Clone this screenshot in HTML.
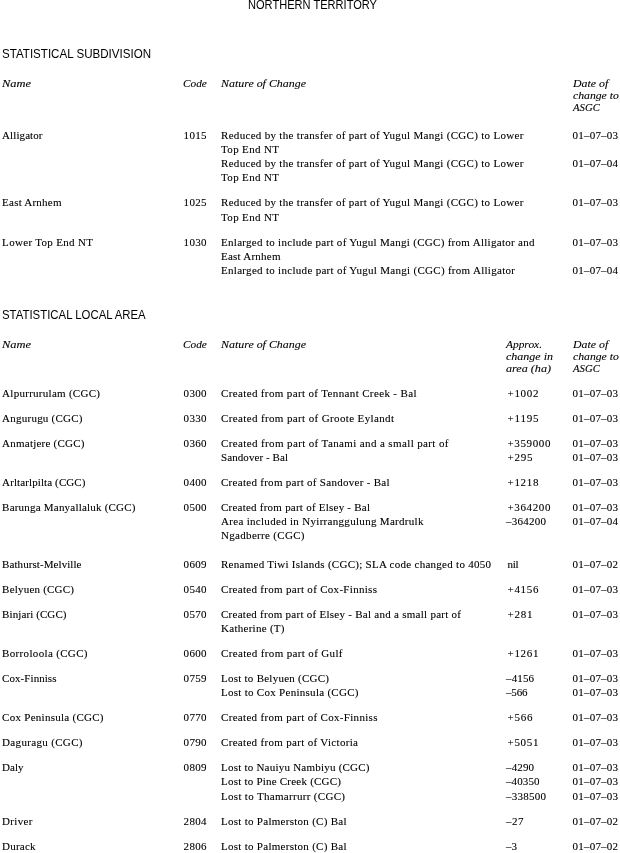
<!DOCTYPE html>
<html lang="en"><head><meta charset="utf-8"><title>Northern Territory</title>
<style>
html,body{margin:0;padding:0;background:#fff;}
body{width:620px;height:853px;position:relative;overflow:hidden;color:#000;}
#pg,#hd{position:absolute;left:0;top:0;width:620px;height:853px;overflow:hidden;}
#pg{filter:url(#bw);}
#pg div,#hd div{position:absolute;white-space:nowrap;line-height:normal;transform-origin:0 0;}
.r{font-family:"Liberation Serif",serif;font-size:11px;}
.i{font-family:"Liberation Serif",serif;font-size:11px;font-style:italic;}
.h{font-family:"Liberation Sans",sans-serif;font-size:13px;}
</style></head><body>
<svg width="0" height="0" style="position:absolute"><defs><filter id="bw" x="0" y="0" width="100%" height="100%" color-interpolation-filters="sRGB"><feComponentTransfer><feFuncA type="gamma" exponent="0.8"/></feComponentTransfer></filter></defs></svg>
<div id="hd">
<div class="h" style="left:247.6px;top:-3px;transform:scaleX(0.8517);">NORTHERN TERRITORY</div>
<div class="h" style="left:1.8px;top:46px;transform:scaleX(0.8910);">STATISTICAL SUBDIVISION</div>
<div class="h" style="left:1.8px;top:307px;transform:scaleX(0.8762);">STATISTICAL LOCAL AREA</div>
</div>
<div id="pg">
<div class="i" style="left:2px;top:77px;transform:scaleX(1.1296);">Name</div>
<div class="i" style="left:183px;top:77px;transform:scaleX(1.0243);">Code</div>
<div class="i" style="left:220.5px;top:77px;transform:scaleX(1.0837);">Nature of Change</div>
<div class="i" style="left:572.6px;top:77px;transform:scaleX(1.0763);">Date of</div>
<div class="i" style="left:572.6px;top:89px;transform:scaleX(1.0632);">change to</div>
<div class="i" style="left:572.6px;top:101px;transform:scaleX(0.9745);">ASGC</div>
<div class="i" style="left:2px;top:338px;transform:scaleX(1.1296);">Name</div>
<div class="i" style="left:183px;top:338px;transform:scaleX(1.0243);">Code</div>
<div class="i" style="left:220.5px;top:338px;transform:scaleX(1.0837);">Nature of Change</div>
<div class="i" style="left:506px;top:338px;transform:scaleX(1.0364);">Approx.</div>
<div class="i" style="left:506px;top:350px;transform:scaleX(1.0910);">change in</div>
<div class="i" style="left:506px;top:362px;transform:scaleX(1.1018);">area (ha)</div>
<div class="i" style="left:572.6px;top:338px;transform:scaleX(1.0763);">Date of</div>
<div class="i" style="left:572.6px;top:350px;transform:scaleX(1.0632);">change to</div>
<div class="i" style="left:572.6px;top:362px;transform:scaleX(0.9745);">ASGC</div>
<div class="r" style="left:2.1px;top:129px;letter-spacing:0.085px;">Alligator</div>
<div class="r" style="left:183.6px;top:129px;letter-spacing:0.300px;">1015</div>
<div class="r" style="left:221px;top:129px;letter-spacing:0.307px;">Reduced by the transfer of part of Yugul Mangi (CGC) to Lower</div>
<div class="r" style="left:572.6px;top:129px;letter-spacing:0.200px;">01–07–03</div>
<div class="r" style="left:221px;top:143px;letter-spacing:0.351px;">Top End NT</div>
<div class="r" style="left:221px;top:157px;letter-spacing:0.307px;">Reduced by the transfer of part of Yugul Mangi (CGC) to Lower</div>
<div class="r" style="left:572.6px;top:157px;letter-spacing:0.200px;">01–07–04</div>
<div class="r" style="left:221px;top:171px;letter-spacing:0.351px;">Top End NT</div>
<div class="r" style="left:2.1px;top:196px;letter-spacing:0.226px;">East Arnhem</div>
<div class="r" style="left:183.6px;top:196px;letter-spacing:0.300px;">1025</div>
<div class="r" style="left:221px;top:196px;letter-spacing:0.307px;">Reduced by the transfer of part of Yugul Mangi (CGC) to Lower</div>
<div class="r" style="left:572.6px;top:196px;letter-spacing:0.200px;">01–07–03</div>
<div class="r" style="left:221px;top:211px;letter-spacing:0.351px;">Top End NT</div>
<div class="r" style="left:2.1px;top:236px;letter-spacing:0.320px;">Lower Top End NT</div>
<div class="r" style="left:183.6px;top:236px;letter-spacing:0.300px;">1030</div>
<div class="r" style="left:221px;top:236px;letter-spacing:0.292px;">Enlarged to include part of Yugul Mangi (CGC) from Alligator and</div>
<div class="r" style="left:572.6px;top:236px;letter-spacing:0.200px;">01–07–03</div>
<div class="r" style="left:221px;top:250px;letter-spacing:0.236px;">East Arnhem</div>
<div class="r" style="left:221px;top:264px;letter-spacing:0.297px;">Enlarged to include part of Yugul Mangi (CGC) from Alligator</div>
<div class="r" style="left:572.6px;top:264px;letter-spacing:0.200px;">01–07–04</div>
<div class="r" style="left:2.1px;top:387px;letter-spacing:0.277px;">Alpurrurulam (CGC)</div>
<div class="r" style="left:183.6px;top:387px;letter-spacing:0.300px;">0300</div>
<div class="r" style="left:221px;top:387px;letter-spacing:0.362px;">Created from part of Tennant Creek - Bal</div>
<div class="r" style="left:507.5px;top:387px;letter-spacing:0.695px;">+1002</div>
<div class="r" style="left:572.6px;top:387px;letter-spacing:0.200px;">01–07–03</div>
<div class="r" style="left:2.1px;top:412px;letter-spacing:0.238px;">Angurugu (CGC)</div>
<div class="r" style="left:183.6px;top:412px;letter-spacing:0.300px;">0330</div>
<div class="r" style="left:221px;top:412px;letter-spacing:0.372px;">Created from part of Groote Eylandt</div>
<div class="r" style="left:507.5px;top:412px;letter-spacing:0.801px;">+1195</div>
<div class="r" style="left:572.6px;top:412px;letter-spacing:0.200px;">01–07–03</div>
<div class="r" style="left:2.1px;top:437px;letter-spacing:0.234px;">Anmatjere (CGC)</div>
<div class="r" style="left:183.6px;top:437px;letter-spacing:0.300px;">0360</div>
<div class="r" style="left:221px;top:437px;letter-spacing:0.378px;">Created from part of Tanami and a small part of</div>
<div class="r" style="left:507.5px;top:437px;letter-spacing:0.630px;">+359000</div>
<div class="r" style="left:572.6px;top:437px;letter-spacing:0.200px;">01–07–03</div>
<div class="r" style="left:221px;top:451px;letter-spacing:0.078px;">Sandover - Bal</div>
<div class="r" style="left:507.5px;top:451px;letter-spacing:0.760px;">+295</div>
<div class="r" style="left:572.6px;top:451px;letter-spacing:0.200px;">01–07–03</div>
<div class="r" style="left:2.1px;top:476px;letter-spacing:0.107px;">Arltarlpilta (CGC)</div>
<div class="r" style="left:183.6px;top:476px;letter-spacing:0.300px;">0400</div>
<div class="r" style="left:221px;top:476px;letter-spacing:0.284px;">Created from part of Sandover - Bal</div>
<div class="r" style="left:507.5px;top:476px;letter-spacing:0.695px;">+1218</div>
<div class="r" style="left:572.6px;top:476px;letter-spacing:0.200px;">01–07–03</div>
<div class="r" style="left:2.1px;top:501px;letter-spacing:0.212px;">Barunga Manyallaluk (CGC)</div>
<div class="r" style="left:183.6px;top:501px;letter-spacing:0.300px;">0500</div>
<div class="r" style="left:221px;top:501px;letter-spacing:0.234px;">Created from part of Elsey - Bal</div>
<div class="r" style="left:507.5px;top:501px;letter-spacing:0.630px;">+364200</div>
<div class="r" style="left:572.6px;top:501px;letter-spacing:0.200px;">01–07–03</div>
<div class="r" style="left:221px;top:515px;letter-spacing:0.304px;">Area included in Nyirranggulung Mardrulk</div>
<div class="r" style="left:506px;top:515px;letter-spacing:0.250px;">–364200</div>
<div class="r" style="left:572.6px;top:515px;letter-spacing:0.200px;">01–07–04</div>
<div class="r" style="left:221px;top:529px;letter-spacing:0.312px;">Ngadberre (CGC)</div>
<div class="r" style="left:2.1px;top:558px;letter-spacing:0.074px;">Bathurst-Melville</div>
<div class="r" style="left:183.6px;top:558px;letter-spacing:0.300px;">0609</div>
<div class="r" style="left:221px;top:558px;letter-spacing:0.274px;">Renamed Tiwi Islands (CGC); SLA code changed to 4050</div>
<div class="r" style="left:507.5px;top:558px;letter-spacing:-0.312px;">nil</div>
<div class="r" style="left:572.6px;top:558px;letter-spacing:0.200px;">01–07–02</div>
<div class="r" style="left:2.1px;top:583px;letter-spacing:0.212px;">Belyuen (CGC)</div>
<div class="r" style="left:183.6px;top:583px;letter-spacing:0.300px;">0540</div>
<div class="r" style="left:221px;top:583px;letter-spacing:0.301px;">Created from part of Cox-Finniss</div>
<div class="r" style="left:507.5px;top:583px;letter-spacing:0.695px;">+4156</div>
<div class="r" style="left:572.6px;top:583px;letter-spacing:0.200px;">01–07–03</div>
<div class="r" style="left:2.1px;top:608px;letter-spacing:0.096px;">Binjari (CGC)</div>
<div class="r" style="left:183.6px;top:608px;letter-spacing:0.300px;">0570</div>
<div class="r" style="left:221px;top:608px;letter-spacing:0.268px;">Created from part of Elsey - Bal and a small part of</div>
<div class="r" style="left:507.5px;top:608px;letter-spacing:0.760px;">+281</div>
<div class="r" style="left:572.6px;top:608px;letter-spacing:0.200px;">01–07–03</div>
<div class="r" style="left:221px;top:622px;letter-spacing:0.277px;">Katherine (T)</div>
<div class="r" style="left:2.1px;top:647px;letter-spacing:0.336px;">Borroloola (CGC)</div>
<div class="r" style="left:183.6px;top:647px;letter-spacing:0.300px;">0600</div>
<div class="r" style="left:221px;top:647px;letter-spacing:0.354px;">Created from part of Gulf</div>
<div class="r" style="left:507.5px;top:647px;letter-spacing:0.695px;">+1261</div>
<div class="r" style="left:572.6px;top:647px;letter-spacing:0.200px;">01–07–03</div>
<div class="r" style="left:2.1px;top:672px;letter-spacing:0.060px;">Cox-Finniss</div>
<div class="r" style="left:183.6px;top:672px;letter-spacing:0.300px;">0759</div>
<div class="r" style="left:221px;top:672px;letter-spacing:0.252px;">Lost to Belyuen (CGC)</div>
<div class="r" style="left:506px;top:672px;letter-spacing:0.125px;">–4156</div>
<div class="r" style="left:572.6px;top:672px;letter-spacing:0.200px;">01–07–03</div>
<div class="r" style="left:221px;top:686px;letter-spacing:0.282px;">Lost to Cox Peninsula (CGC)</div>
<div class="r" style="left:506px;top:686px;letter-spacing:-0.167px;">–566</div>
<div class="r" style="left:572.6px;top:686px;letter-spacing:0.200px;">01–07–03</div>
<div class="r" style="left:2.1px;top:711px;letter-spacing:0.269px;">Cox Peninsula (CGC)</div>
<div class="r" style="left:183.6px;top:711px;letter-spacing:0.300px;">0770</div>
<div class="r" style="left:221px;top:711px;letter-spacing:0.318px;">Created from part of Cox-Finniss</div>
<div class="r" style="left:507.5px;top:711px;letter-spacing:0.760px;">+566</div>
<div class="r" style="left:572.6px;top:711px;letter-spacing:0.200px;">01–07–03</div>
<div class="r" style="left:2.1px;top:736px;letter-spacing:0.332px;">Daguragu (CGC)</div>
<div class="r" style="left:183.6px;top:736px;letter-spacing:0.300px;">0790</div>
<div class="r" style="left:221px;top:736px;letter-spacing:0.320px;">Created from part of Victoria</div>
<div class="r" style="left:507.5px;top:736px;letter-spacing:0.695px;">+5051</div>
<div class="r" style="left:572.6px;top:736px;letter-spacing:0.200px;">01–07–03</div>
<div class="r" style="left:2.1px;top:761px;letter-spacing:0.003px;">Daly</div>
<div class="r" style="left:183.6px;top:761px;letter-spacing:0.300px;">0809</div>
<div class="r" style="left:221px;top:761px;letter-spacing:0.226px;">Lost to Nauiyu Nambiyu (CGC)</div>
<div class="r" style="left:506px;top:761px;letter-spacing:0.125px;">–4290</div>
<div class="r" style="left:572.6px;top:761px;letter-spacing:0.200px;">01–07–03</div>
<div class="r" style="left:221px;top:775px;letter-spacing:0.222px;">Lost to Pine Creek (CGC)</div>
<div class="r" style="left:506px;top:775px;letter-spacing:0.100px;">–40350</div>
<div class="r" style="left:572.6px;top:775px;letter-spacing:0.200px;">01–07–03</div>
<div class="r" style="left:221px;top:790px;letter-spacing:0.312px;">Lost to Thamarrurr (CGC)</div>
<div class="r" style="left:506px;top:790px;letter-spacing:0.250px;">–338500</div>
<div class="r" style="left:572.6px;top:790px;letter-spacing:0.200px;">01–07–03</div>
<div class="r" style="left:2.1px;top:815px;letter-spacing:0.336px;">Driver</div>
<div class="r" style="left:183.6px;top:815px;letter-spacing:0.300px;">2804</div>
<div class="r" style="left:221px;top:815px;letter-spacing:0.278px;">Lost to Palmerston (C) Bal</div>
<div class="r" style="left:506px;top:815px;letter-spacing:0.500px;">–27</div>
<div class="r" style="left:572.6px;top:815px;letter-spacing:0.200px;">01–07–02</div>
<div class="r" style="left:2.1px;top:840px;letter-spacing:0.205px;">Durack</div>
<div class="r" style="left:183.6px;top:840px;letter-spacing:0.300px;">2806</div>
<div class="r" style="left:221px;top:840px;letter-spacing:0.278px;">Lost to Palmerston (C) Bal</div>
<div class="r" style="left:506px;top:840px;letter-spacing:0.000px;">–3</div>
<div class="r" style="left:572.6px;top:840px;letter-spacing:0.200px;">01–07–02</div>
</div>
</body></html>
